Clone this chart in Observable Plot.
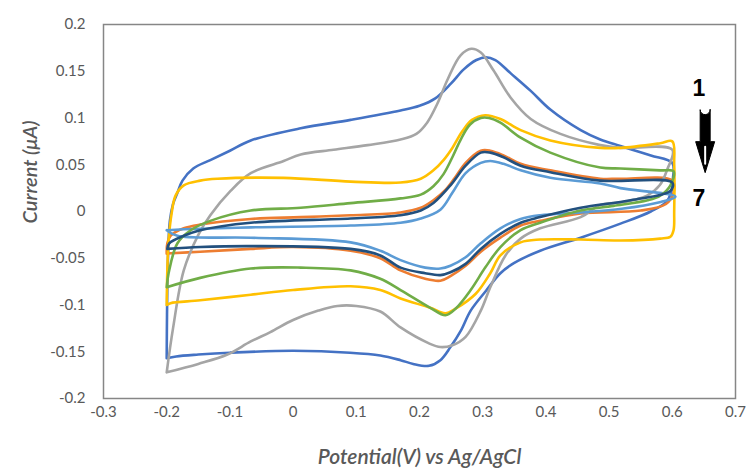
<!DOCTYPE html>
<html><head><meta charset="utf-8">
<script src="https://cdn.jsdelivr.net/npm/d3@7"></script>
<script src="https://cdn.jsdelivr.net/npm/@observablehq/plot@0.6"></script>
<style>html,body{margin:0;padding:0;background:#fff}</style>
</head><body><div id="chart"></div>
<script>
// Potential (V) / current (µA) pairs, forward sweep then reverse sweep
const scan1 = [[-0.2,-0.157],[-0.1995,-0.11],[-0.198,-0.05],[-0.195,-0.01],[-0.19,0.008],[-0.183,0.02],[-0.175,0.033],[-0.158,0.046],[-0.131,0.055],[-0.1,0.065],[-0.067,0.076],[0.012,0.089],[0.091,0.098],[0.17,0.108],[0.2,0.113],[0.225,0.121],[0.25,0.137],[0.27,0.152],[0.29,0.162],[0.305,0.165],[0.32,0.162],[0.344,0.148],[0.376,0.129],[0.407,0.109],[0.455,0.087],[0.486,0.077],[0.518,0.07],[0.566,0.06],[0.6,0.052],
  [0.601,0.035],[0.598,0.02],[0.59,0.01],[0.566,0.0],[0.518,-0.013],[0.455,-0.028],[0.391,-0.042],[0.35,-0.055],[0.328,-0.066],[0.305,-0.085],[0.281,-0.106],[0.265,-0.128],[0.249,-0.145],[0.233,-0.159],[0.215,-0.165],[0.19,-0.163],[0.17,-0.159],[0.138,-0.154],[0.09,-0.151],[0.0,-0.149],[-0.1,-0.151],[-0.15,-0.153],[-0.185,-0.155],[-0.2,-0.157]];
const scan2 = [[-0.2,-0.172],[-0.19,-0.125],[-0.173,-0.063],[-0.15,-0.025],[-0.131,-0.004],[-0.099,0.022],[-0.067,0.041],[-0.015,0.054],[0.012,0.061],[0.064,0.066],[0.118,0.071],[0.17,0.077],[0.195,0.083],[0.212,0.095],[0.228,0.115],[0.245,0.142],[0.265,0.167],[0.282,0.174],[0.297,0.17],[0.317,0.151],[0.344,0.122],[0.376,0.099],[0.423,0.083],[0.486,0.071],[0.518,0.068],[0.6,0.066],
  [0.592,0.045],[0.58,0.028],[0.56,0.017],[0.523,0.01],[0.486,0.007],[0.455,-0.006],[0.391,-0.018],[0.36,-0.029],[0.336,-0.047],[0.312,-0.081],[0.297,-0.106],[0.273,-0.134],[0.252,-0.143],[0.233,-0.145],[0.215,-0.141],[0.17,-0.124],[0.138,-0.107],[0.1,-0.101],[0.07,-0.101],[0.04,-0.106],[0.0,-0.116],[-0.036,-0.129],[-0.067,-0.139],[-0.104,-0.153],[-0.15,-0.163],[-0.2,-0.172]];
const scan3 = [[-0.2,-0.1],[-0.199,-0.063],[-0.197,-0.031],[-0.192,-0.001],[-0.186,0.017],[-0.173,0.028],[-0.147,0.033],[-0.12,0.035],[-0.015,0.036],[0.091,0.032],[0.17,0.031],[0.202,0.035],[0.222,0.044],[0.238,0.055],[0.252,0.068],[0.267,0.085],[0.283,0.098],[0.304,0.103],[0.328,0.099],[0.36,0.087],[0.407,0.076],[0.486,0.068],[0.518,0.068],[0.581,0.073],[0.6,0.075],
  [0.603,0.05],[0.603,0.0],[0.602,-0.02],[0.597,-0.027],[0.581,-0.029],[0.518,-0.031],[0.455,-0.03],[0.391,-0.03],[0.36,-0.033],[0.328,-0.047],[0.312,-0.066],[0.289,-0.088],[0.257,-0.104],[0.241,-0.109],[0.217,-0.103],[0.17,-0.093],[0.138,-0.084],[0.091,-0.08],[0.0,-0.084],[-0.067,-0.089],[-0.147,-0.095],[-0.194,-0.098],[-0.2,-0.1]];
const scan4 = [[-0.2,-0.081],[-0.197,-0.066],[-0.183,-0.034],[-0.162,-0.02],[-0.131,-0.01],[-0.067,0.001],[0.012,0.004],[0.091,0.009],[0.17,0.014],[0.202,0.018],[0.222,0.027],[0.238,0.04],[0.252,0.058],[0.266,0.078],[0.28,0.093],[0.297,0.1],[0.31,0.1],[0.328,0.095],[0.36,0.079],[0.407,0.063],[0.486,0.047],[0.518,0.046],[0.581,0.044],[0.602,0.043],
  [0.597,0.028],[0.581,0.017],[0.561,0.012],[0.507,0.006],[0.455,0.001],[0.391,-0.012],[0.36,-0.02],[0.328,-0.038],[0.304,-0.06],[0.281,-0.084],[0.257,-0.104],[0.241,-0.111],[0.217,-0.103],[0.17,-0.084],[0.138,-0.072],[0.091,-0.063],[0.012,-0.06],[-0.067,-0.061],[-0.147,-0.071],[-0.2,-0.081]];
const scan5 = [[-0.2,-0.045],[-0.199,-0.034],[-0.194,-0.026],[-0.173,-0.018],[-0.147,-0.014],[-0.067,-0.008],[0.012,-0.006],[0.091,-0.004],[0.17,-0.001],[0.202,0.004],[0.222,0.012],[0.241,0.023],[0.256,0.036],[0.273,0.052],[0.297,0.065],[0.312,0.065],[0.333,0.06],[0.36,0.051],[0.407,0.044],[0.486,0.035],[0.518,0.035],[0.6,0.033],
  [0.602,0.02],[0.59,0.008],[0.55,0.001],[0.455,-0.002],[0.391,-0.01],[0.36,-0.015],[0.328,-0.028],[0.297,-0.043],[0.273,-0.058],[0.249,-0.069],[0.233,-0.074],[0.209,-0.072],[0.17,-0.063],[0.138,-0.05],[0.091,-0.042],[0.0,-0.038],[-0.067,-0.04],[-0.147,-0.043],[-0.2,-0.045]];
const scan6 = [[-0.199,-0.04],[-0.196,-0.034],[-0.173,-0.026],[-0.147,-0.02],[-0.067,-0.012],[0.091,-0.0075],[0.17,-0.004],[0.202,0.001],[0.222,0.009],[0.249,0.028],[0.273,0.049],[0.297,0.063],[0.312,0.063],[0.333,0.058],[0.36,0.049],[0.407,0.042],[0.486,0.033],[0.6,0.031],
  [0.597,0.022],[0.534,0.012],[0.455,0.004],[0.391,-0.006],[0.36,-0.012],[0.328,-0.024],[0.297,-0.04],[0.273,-0.056],[0.249,-0.065],[0.233,-0.068],[0.209,-0.066],[0.17,-0.06],[0.138,-0.047],[0.091,-0.04],[-0.067,-0.037],[-0.147,-0.038],[-0.199,-0.04]];
const scan7 = [[-0.2,-0.02],[-0.173,-0.019],[-0.067,-0.017],[0.091,-0.015],[0.17,-0.012],[0.202,-0.0075],[0.233,0.002],[0.252,0.02],[0.273,0.041],[0.297,0.052],[0.312,0.054],[0.333,0.051],[0.36,0.044],[0.407,0.036],[0.486,0.03],[0.518,0.025],[0.605,0.016],
  [0.58,0.01],[0.52,0.003],[0.455,-0.001],[0.391,-0.004],[0.36,-0.008],[0.328,-0.018],[0.297,-0.034],[0.273,-0.049],[0.249,-0.058],[0.233,-0.061],[0.209,-0.06],[0.17,-0.052],[0.138,-0.042],[0.091,-0.033],[-0.067,-0.028],[-0.183,-0.026],[-0.2,-0.02]];

// drawing order follows the spreadsheet series order
const seriesOrder = [
  {scan: scan1, color: "#4472C4"},
  {scan: scan5, color: "#ED7D31"},
  {scan: scan2, color: "#A5A5A5"},
  {scan: scan3, color: "#FFC000"},
  {scan: scan7, color: "#5B9BD5"},
  {scan: scan4, color: "#70AD47"},
  {scan: scan6, color: "#22507E"}
];

const xTicks = [-0.3,-0.2,-0.1,0,0.1,0.2,0.3,0.4,0.5,0.6,0.7];
const yTicks = [-0.2,-0.15,-0.1,-0.05,0,0.05,0.1,0.15,0.2];
const xTitle = "Potential(V) vs Ag/AgCl";
const yTitle = "Current (\u03BCA)";
const scanLabels = [{text: "1", v: 0.642, i: 0.131}, {text: "7", v: 0.642, i: 0.014}];
const scanArrow = [{v: 0.652, i: 0.11}];

const fmt = d => String(+d.toFixed(2));

const arrowBody = {
  draw(ctx, l) {
    const hw = 5, headH = 33, headW = 9.5;
    ctx.moveTo(-hw, -1);
    ctx.lineTo(-hw, -(l - headH + 2));
    ctx.lineTo(-headW, -(l - headH + 2));
    ctx.lineTo(0, -l);
    ctx.lineTo(headW, -(l - headH + 2));
    ctx.lineTo(hw, -(l - headH + 2));
    ctx.lineTo(hw, -1);
    ctx.arc(0, -1, hw, 0, Math.PI, true);
    ctx.closePath();
  }
};
const arrowSlit = {
  draw(ctx, l) {
    ctx.moveTo(0, -(l - 26));
    ctx.lineTo(0, -(l - 9));
  }
};

const plot = Plot.plot({
  width: 749, height: 473,
  marginLeft: 103, marginRight: 14, marginTop: 24, marginBottom: 75,
  style: {fontFamily: "Lato, 'Open Sans', sans-serif", fontSize: "15px", color: "#595959", background: "#fff", overflow: "visible"},
  x: {domain: [-0.3, 0.7], ticks: xTicks, tickFormat: fmt, tickSize: 0, tickPadding: 8, label: null},
  y: {domain: [-0.2, 0.2], ticks: yTicks, tickFormat: fmt, tickSize: 0, tickPadding: 18, label: null},
  marks: [
    Plot.frame({stroke: "#868686", strokeWidth: 1.5}),
    ...seriesOrder.map(s => Plot.line(s.scan, {x: d => d[0], y: d => d[1], stroke: s.color, strokeWidth: 2.6, curve: "catmull-rom"})),
    Plot.vector(scanArrow, {x: "v", y: "i", length: 64, rotate: 180, anchor: "start", shape: arrowBody, fill: "#000", stroke: "#000", strokeWidth: 1}),
    Plot.vector(scanArrow, {x: "v", y: "i", length: 64, rotate: 180, anchor: "start", shape: arrowSlit, stroke: "#fff", strokeWidth: 2}),
    Plot.text(scanLabels, {x: "v", y: "i", text: "text", fill: "#000", fontSize: 23, fontWeight: "bold", fontFamily: "Liberation Sans, Arial, sans-serif"}),
    Plot.text([yTitle], {text: d => d, frameAnchor: "left", dx: -73, dy: 12, rotate: -90, fontSize: 20, fontStyle: "italic", fontWeight: 600, fill: "#595959"}),
    Plot.text([xTitle], {text: d => d, frameAnchor: "bottom", dy: 65, fontSize: 21, fontStyle: "italic", fontWeight: 600, fill: "#595959"})
  ]
});
document.getElementById("chart").appendChild(plot);
</script>
</body></html>
